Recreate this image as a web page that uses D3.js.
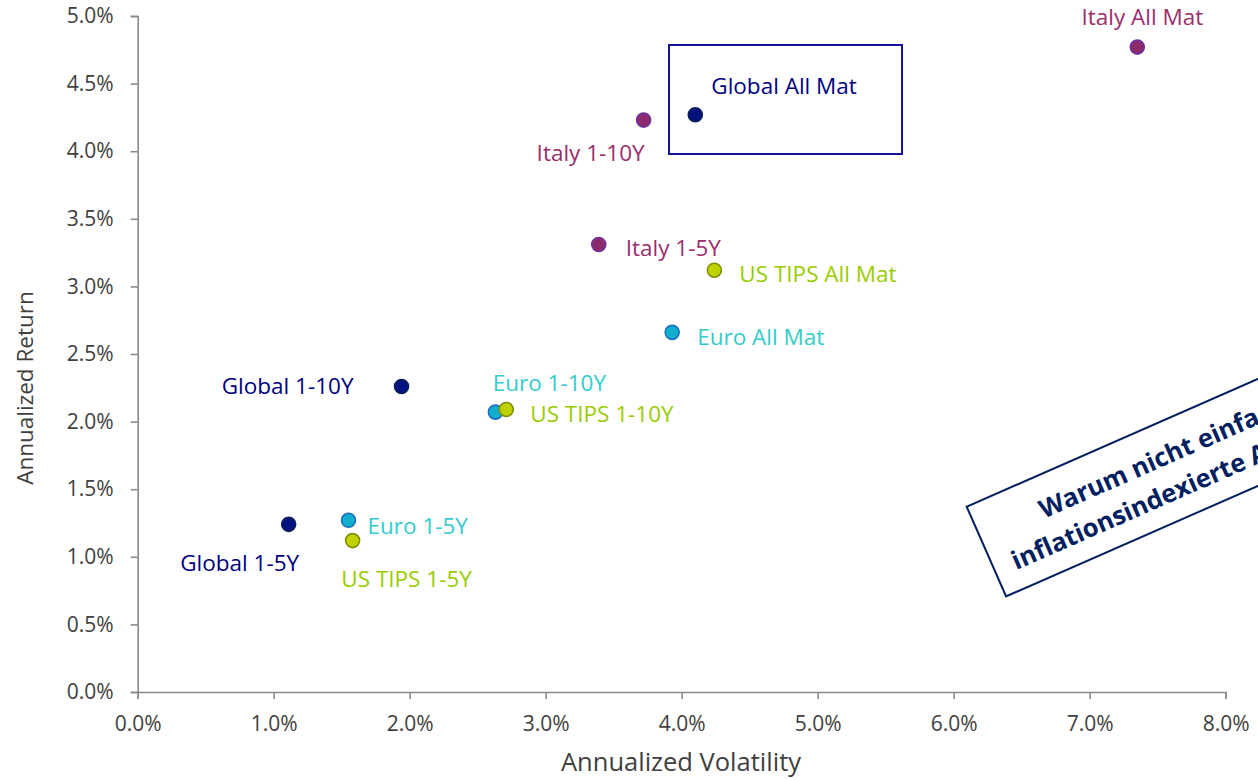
<!DOCTYPE html>
<html><head><meta charset="utf-8">
<script src="https://cdn.jsdelivr.net/npm/d3@7"></script>
<style>
html,body{margin:0;padding:0;background:#fff;overflow:hidden}
svg{display:block;font-family:"Open Sans",sans-serif}
</style></head>
<body><svg id="c" width="1258" height="780"></svg>
<script>
// ---- data ----
const names = ["Italy All Mat","Global All Mat","Italy 1-10Y","Italy 1-5Y","US TIPS All Mat","Euro All Mat",
  "Global 1-10Y","Euro 1-10Y","US TIPS 1-10Y","Global 1-5Y","Euro 1-5Y","US TIPS 1-5Y"];
const groups = ["Italy","Global","Italy","Italy","US TIPS","Euro","Global","Euro","US TIPS","Global","Euro","US TIPS"];
const volatility = [7.35,4.10,3.72,3.39,4.24,3.93,1.94,2.63,2.71,1.11,1.55,1.58];
const returns    = [4.77,4.27,4.23,3.31,3.12,2.66,2.26,2.07,2.09,1.24,1.27,1.12];
const xTicks = [0,1,2,3,4,5,6,7,8];
const yTicks = [0,0.5,1,1.5,2,2.5,3,3.5,4,4.5,5];
const xTitle = "Annualized Volatility";
const yTitle = "Annualized Return";
const noteLines = ["Warum nicht einfach globale","inflationsindexierte Anleihen?"];

// ---- styles / layout ----
const colors = {
  "Italy":   {fill:"#8d2a6b", stroke:"#7030a0", text:"#9b2d6b"},
  "Global":  {fill:"#00127d", stroke:"#0a1f5c", text:"#000080"},
  "Euro":    {fill:"#12aed0", stroke:"#1a6fbf", text:"#33cccc"},
  "US TIPS": {fill:"#bfd100", stroke:"#808f00", text:"#99cc00"}
};
// label placement relative to point (px): [dx, dy(baseline), anchor]
const labelPos = [[5,-22,"middle"],[16,-21,"start"],[-53,41,"middle"],[27,12,"start"],[25,12,"start"],[25,13,"start"],
  [-48,8,"end"],[54,-21,"middle"],[24,13,"start"],[-49,47,"middle"],[19,14,"start"],[54,46,"middle"]];

const L = 137.7, R = 1225.7, T = 16, B = 692;
const svg = d3.select("#c");
const x = d3.scaleLinear().domain([0,8]).range([L,R]);
const y = d3.scaleLinear().domain([0,5]).range([B,T]);
const axisColor = "#8a8a8a", tickText = "#404040";

const fmt = d => d.toFixed(1) + "%";
const gx = svg.append("g").attr("transform",`translate(0,${B})`)
  .call(d3.axisBottom(x).tickValues(xTicks).tickFormat(fmt).tickSizeInner(7).tickSizeOuter(7).tickPadding(14));
const gy = svg.append("g").attr("transform",`translate(${L},0)`)
  .call(d3.axisLeft(y).tickValues(yTicks).tickFormat(fmt).tickSizeInner(7).tickSizeOuter(7).tickPadding(17));
[gx,gy].forEach(g=>{
  g.select(".domain").attr("stroke",axisColor).attr("stroke-width",1.6);
  g.selectAll(".tick line").attr("stroke",axisColor).attr("stroke-width",1.6);
  g.selectAll(".tick text").attr("fill",tickText).style("font-size","21px").style("font-family","Open Sans");
});
gx.selectAll(".tick text").attr("dy","0.85em");

svg.append("text").attr("x",681).attr("y",771).attr("text-anchor","middle")
  .attr("fill",tickText).style("font-size","25.5px").text(xTitle);
svg.append("text").attr("transform",`translate(33,388) rotate(-90)`).attr("text-anchor","middle")
  .attr("fill",tickText).style("font-size","22.5px").text(yTitle);

// highlight box around Global All Mat
svg.append("rect").attr("x",669).attr("y",45).attr("width",233).attr("height",109)
  .attr("fill","none").attr("stroke","#12129a").attr("stroke-width",2);

// points
const idx = d3.range(names.length);
svg.append("g").selectAll("circle").data(idx).join("circle")
  .attr("cx",i=>x(volatility[i])).attr("cy",i=>y(returns[i])).attr("r",7)
  .attr("fill",i=>colors[groups[i]].fill).attr("stroke",i=>colors[groups[i]].stroke).attr("stroke-width",1.6);

svg.append("g").selectAll("text").data(idx).join("text")
  .attr("x",i=>x(volatility[i])+labelPos[i][0]).attr("y",i=>y(returns[i])+labelPos[i][1])
  .attr("text-anchor",i=>labelPos[i][2]).attr("fill",i=>colors[groups[i]].text)
  .style("font-size","22.5px").text(i=>names[i]);

// rotated note box (cut off by the right edge, as in the reference)
const note = svg.append("g").attr("transform","translate(966.7,506.7) rotate(-23.7)");
note.append("rect").attr("x",0).attr("y",0).attr("width",440).attr("height",98)
  .attr("fill","#fff").attr("stroke","#002060").attr("stroke-width",2);
const nt = note.append("text").attr("fill","#002060").style("font-weight","bold").style("font-size","25.5px");
nt.append("tspan").attr("x",66).attr("y",42).text(noteLines[0]);
nt.append("tspan").attr("x",20).attr("y",78).text(noteLines[1]);
</script></body></html>
